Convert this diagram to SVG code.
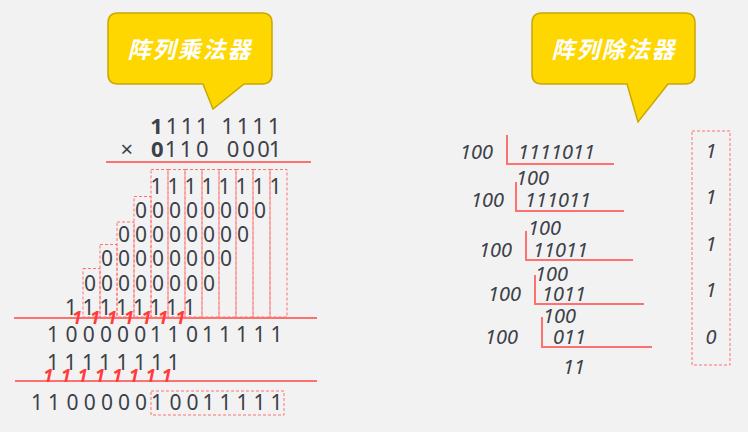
<svg xmlns="http://www.w3.org/2000/svg" width="748" height="432" viewBox="0 0 748 432">
<style>
.d{font-family:"Noto Sans","Liberation Sans",sans-serif;font-size:21px;fill:#3c4049;text-anchor:middle}
.t{font-size:22px}
.b{font-weight:bold}
.c{font-family:"Noto Sans","Liberation Sans",sans-serif;font-size:18px;font-weight:bold;font-style:italic;fill:#ff3b3b;text-anchor:middle}
.i{font-family:"Noto Sans","Liberation Sans",sans-serif;font-size:20px;font-style:italic;fill:#3c4049}
.ln{stroke:#ff7070;stroke-width:2;fill:none}
.ds{stroke:#ff7070;stroke-width:1;stroke-dasharray:3 2;fill:none}
.call{fill:#ffd700;stroke:#c9a800;stroke-width:1.5}
.ct{font-family:"Noto Sans CJK SC","Noto Sans",sans-serif;font-size:23px;font-weight:bold;font-style:italic;fill:#ffffff;text-anchor:middle;letter-spacing:2px}
</style>
<rect x="0" y="0" width="748" height="432" fill="#f2f2f2"/>

<g id="callout-mul">
<path class="call" d="M118,13 H262 Q272,13 272,23 V74 Q272,84 262,84 H244 L213,109 L203,84 H118 Q108,84 108,74 V23 Q108,13 118,13 Z"/>
<text class="ct" x="190" y="58">阵列乘法器</text>
</g>
<g id="callout-div">
<path class="call" d="M542,13 H685 Q695,13 695,23 V74 Q695,84 685,84 H668 L638,122 L627,84 H542 Q532,84 532,74 V23 Q532,13 542,13 Z"/>
<text class="ct" x="614" y="58">阵列除法器</text>
</g>

<g id="connectors">
<line class="ln" x1="106" y1="162" x2="311" y2="162"/>
<line class="ln" x1="14" y1="318" x2="317" y2="318"/>
<line class="ln" x1="15" y1="381" x2="317" y2="381"/>
<path class="ln" d="M507,135 V164 H614"/>
<path class="ln" d="M516,182 V211 H624"/>
<path class="ln" d="M526,231 V260 H633"/>
<path class="ln" d="M535,275 V304 H644"/>
<path class="ln" d="M542,317 V347 H652"/>
</g>

<g id="columns">
<rect class="ds" x="151" y="169.5" width="17" height="147.5"/>
<rect class="ds" x="168" y="169.5" width="17" height="147.5"/>
<rect class="ds" x="185" y="169.5" width="17" height="147.5"/>
<rect class="ds" x="202" y="169.5" width="17" height="147.5"/>
<rect class="ds" x="219" y="169.5" width="17" height="147.5"/>
<rect class="ds" x="236" y="169.5" width="17" height="147.5"/>
<rect class="ds" x="253" y="169.5" width="17" height="147.5"/>
<rect class="ds" x="270" y="169.5" width="17" height="147.5"/>
<rect class="ds" x="134" y="196.5" width="17" height="120.5"/>
<rect class="ds" x="117" y="222" width="17" height="95"/>
<rect class="ds" x="100" y="244.5" width="17" height="72.5"/>
<rect class="ds" x="83" y="268.5" width="17" height="48.5"/>
<rect class="ds" x="151" y="391" width="133" height="24"/>
<rect class="ds" x="692" y="131" width="38" height="234"/>
</g>

<g id="multiplier">
<text class="d t" x="156.5 172 187 202 227.5 243 258.5 274" y="134"><tspan class="b">1</tspan>1111111</text>
<text class="d t" x="126.7 157.3 171 186 202.3 233 248.5 263.5 275" y="157">×<tspan class="b">0</tspan>1100001</text>
<text class="d" x="156.5 173.5 190.5 207.5 224.5 241.5 258.5 275.5" y="193.5">11111111</text>
<text class="d" x="141 158 175 192 209 226 243 260" y="217.5">00000000</text>
<text class="d" x="124 141 158 175 192 209 226 243" y="242">00000000</text>
<text class="d" x="107 124 141 158 175 192 209 226" y="266">00000000</text>
<text class="d" x="90 107 124 141 158 175 192 209" y="290.5">00000000</text>
<text class="d" x="71 88.5 105.5 122 139 155.5 172 189.5" y="315">11111111</text>
<text class="c" x="77 95 112 129 146.5 163 180.5" y="324">1111111</text>
<text class="d" x="53 71.5 88.7 105.9 123.1 140.3 156 173.5 191.9 208 225 242 259.5 276.5" y="342">10000011011111</text>
<text class="d" x="53 70.5 88 105 122.5 140 157 173.5" y="369.5">11111111</text>
<text class="c" x="48.3 66 82.7 100 117.3 134 150.7 166.7" y="382">11111111</text>
<text class="d" x="37 54 72.6 89.7 106.9 124 141.1 157 175.4 192.6 208.5 225.5 242.5 259.5 276.5" y="410">110000010011111</text>
</g>

<g id="divider">
<text class="i" x="460" y="159">100</text>
<text class="i" x="518" y="159">1111011</text>
<text class="i" x="516" y="185">100</text>
<text class="i" x="471" y="207">100</text>
<text class="i" x="525" y="207">111011</text>
<text class="i" x="528" y="235">100</text>
<text class="i" x="479" y="257">100</text>
<text class="i" x="533" y="257">11011</text>
<text class="i" x="535" y="281">100</text>
<text class="i" x="488" y="301">100</text>
<text class="i" x="542" y="301">1011</text>
<text class="i" x="543" y="323">100</text>
<text class="i" x="485" y="344">100</text>
<text class="i" x="553" y="344">011</text>
<text class="i" x="563" y="374">11</text>
</g>

<g id="quotient">
<text class="i" x="711" y="158" text-anchor="middle">1</text>
<text class="i" x="711" y="204" text-anchor="middle">1</text>
<text class="i" x="711" y="251" text-anchor="middle">1</text>
<text class="i" x="711" y="297" text-anchor="middle">1</text>
<text class="i" x="711" y="344" text-anchor="middle">0</text>
</g>
</svg>
